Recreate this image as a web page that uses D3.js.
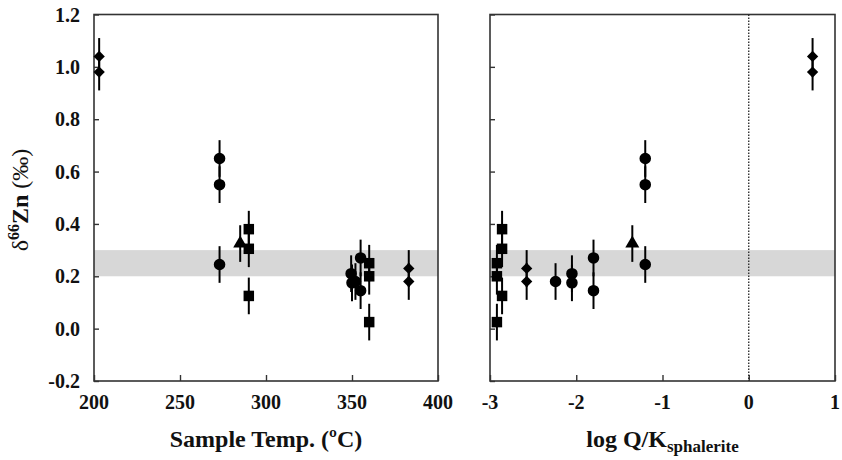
<!DOCTYPE html>
<html>
<head>
<meta charset="utf-8">
<script src="https://cdn.jsdelivr.net/npm/d3@7"></script>
<style>
  body { margin: 0; background: #fff; }
  svg text { font-family: "Liberation Serif", "Times New Roman", serif; font-weight: bold; fill: #111; }
</style>
</head>
<body>
<svg id="chart" width="842" height="460"></svg>
<script>
// samples: shape, sample temperature (C), log Q/K sphalerite, d66Zn (permil)
const shapes = ["diamond", "diamond", "diamond", "diamond",
    "circle", "circle", "circle", "circle", "circle", "circle", "circle", "circle",
    "triangle",
    "square", "square", "square", "square", "square", "square"];
const temps = [203, 203, 383, 383,
    273, 273, 273, 349.5, 350, 352, 355, 355,
    285,
    290, 290, 290, 360, 360, 360];
const logQK = [0.74, 0.74, -2.575, -2.575,
    -1.2, -1.2, -1.2, -2.05, -2.05, -2.24, -1.8, -1.8,
    -1.35,
    -2.86, -2.86, -2.86, -2.92, -2.92, -2.92];
const d66Zn = [1.04, 0.98, 0.23, 0.18,
    0.65, 0.55, 0.245, 0.21, 0.175, 0.18, 0.27, 0.145,
    0.325,
    0.38, 0.305, 0.125, 0.25, 0.20, 0.025];
const errZn = 0.07;
const bandZn = [0.2, 0.3];

const yTicks = [-0.2, 0.0, 0.2, 0.4, 0.6, 0.8, 1.0, 1.2];
const tempTicks = [200, 250, 300, 350, 400];
const logTicks = [-3, -2, -1, 0, 1];

const svg = d3.select("#chart");

const y = d3.scaleLinear().domain([-0.2, 1.2]).range([381, 14.5]);
const xTemp = d3.scaleLinear().domain([200, 400]).range([94, 438]);
const xLog = d3.scaleLinear().domain([-3, 1]).range([490, 835]);

// diamond = square turned 45 degrees
const symbolSize = { circle: 105, square: 110, diamond: 64, triangle: 85 };
const symbolType = { circle: d3.symbolCircle, square: d3.symbolSquare, diamond: d3.symbolSquare, triangle: d3.symbolTriangle };

// plain hyphen for negatives, like the original figure
const fmt = (f) => (d) => d3.format(f)(d).replace("\u2212", "-");

function drawPanel(x, xValues, ticks, showYLabels, title, sub) {
    let g = svg.append("g");
    let [x0, x1] = x.range();

    //Gray band:
    g.append("rect")
        .attr("x", x0).attr("width", x1 - x0)
        .attr("y", y(bandZn[1])).attr("height", y(bandZn[0]) - y(bandZn[1]))
        .attr("fill", "#d7d7d7");

    //Frame:
    g.append("rect")
        .attr("x", x0).attr("y", y.range()[1])
        .attr("width", x1 - x0).attr("height", y.range()[0] - y.range()[1])
        .attr("fill", "none").attr("stroke", "#333").attr("stroke-width", 1.6);

    //Inward ticks:
    let yAxis = d3.axisRight(y).tickValues(yTicks).tickSize(5).tickFormat("");
    g.append("g").attr("transform", `translate(${x0},0)`).call(yAxis)
        .call(a => a.select(".domain").remove())
        .selectAll("line").attr("stroke", "#333").attr("stroke-width", 1.4);
    let xAxis = d3.axisTop(x).tickValues(ticks).tickSize(6).tickFormat("");
    g.append("g").attr("transform", `translate(0,${y.range()[0]})`).call(xAxis)
        .call(a => a.select(".domain").remove())
        .selectAll("line").attr("stroke", "#333").attr("stroke-width", 1.4);

    //Tick labels:
    g.selectAll("text.xlab").data(ticks).join("text")
        .attr("class", "xlab")
        .attr("x", d => x(d)).attr("y", 409)
        .attr("text-anchor", "middle").attr("font-size", 20)
        .text(fmt("d"));
    if (showYLabels) {
        g.selectAll("text.ylab").data(yTicks).join("text")
            .attr("class", "ylab")
            .attr("x", x0 - 14).attr("y", d => y(d) + 7)
            .attr("text-anchor", "end").attr("font-size", 20)
            .text(fmt(".1f"));
    }

    //Axis title:
    let t = g.append("text")
        .attr("x", (x0 + x1) / 2).attr("y", 447)
        .attr("text-anchor", "middle").attr("font-size", 24)
        .text(title);
    if (sub) {
        t.append("tspan").attr("font-size", 17).attr("dy", 5).text(sub);
    }

    //Error bars:
    g.selectAll("line.err").data(d3.range(d66Zn.length)).join("line")
        .attr("class", "err")
        .attr("x1", i => x(xValues[i])).attr("x2", i => x(xValues[i]))
        .attr("y1", i => y(d66Zn[i] + errZn)).attr("y2", i => y(d66Zn[i] - errZn))
        .attr("stroke", "#000").attr("stroke-width", 2);

    //Points:
    g.selectAll("path.pt").data(d3.range(d66Zn.length)).join("path")
        .attr("class", "pt")
        .attr("transform", i => `translate(${x(xValues[i])},${y(d66Zn[i])})` + (shapes[i] == "diamond" ? " rotate(45)" : ""))
        .attr("d", i => d3.symbol(symbolType[shapes[i]], symbolSize[shapes[i]])())
        .attr("fill", "#000");
    return g;
}

drawPanel(xTemp, temps, tempTicks, true, "Sample Temp. (\u00baC)", null);
let right = drawPanel(xLog, logQK, logTicks, false, "log Q/K", "sphalerite");

//Dotted line at log Q/K = 0:
right.append("line")
    .attr("x1", xLog(0)).attr("x2", xLog(0))
    .attr("y1", y.range()[1]).attr("y2", y.range()[0])
    .attr("stroke", "#222").attr("stroke-width", 1.3)
    .attr("stroke-dasharray", "1.5,1.5");

//Y axis title:
let yt = svg.append("text")
    .attr("transform", "translate(28,200) rotate(-90)")
    .attr("text-anchor", "middle").attr("font-size", 24);
yt.append("tspan").attr("font-weight", "normal").text("\u03b4");
yt.append("tspan").attr("font-size", 16).attr("dy", -9).text("66");
yt.append("tspan").attr("dy", 9).text("Zn ");
yt.append("tspan").attr("font-weight", "normal").text("(\u2030)");
</script>
</body>
</html>
